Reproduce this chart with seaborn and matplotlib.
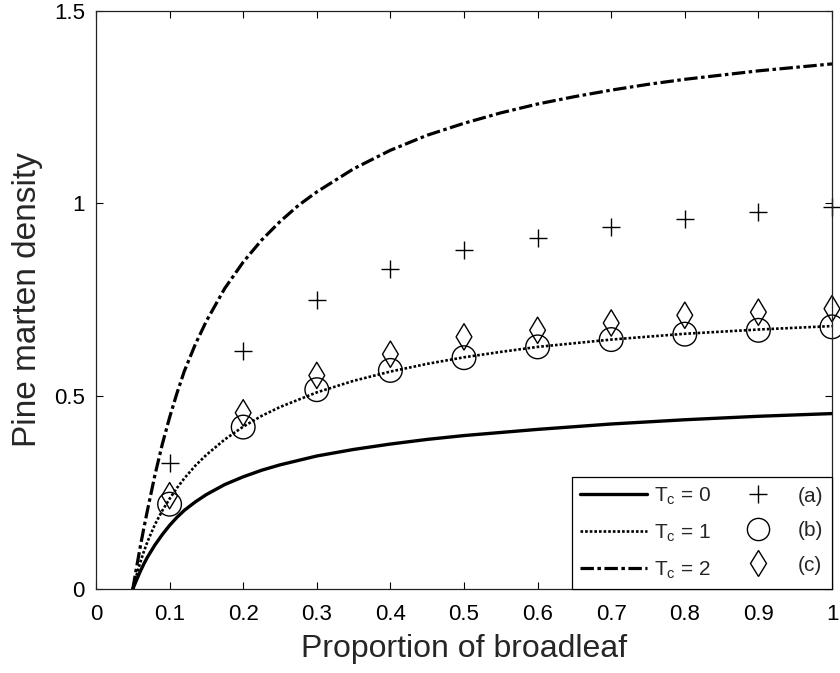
"""Pine marten density vs proportion of broadleaf for three T_c values."""

import matplotlib
matplotlib.use("Agg")
import matplotlib.pyplot as plt
from matplotlib.lines import Line2D
import pandas as pd
import seaborn as sns

# curves
curve_x_tc0 = [0.05, 0.055, 0.06, 0.065, 0.07, 0.08, 0.09, 0.10, 0.11, 0.12, 0.135, 0.15,
               0.175, 0.20, 0.225, 0.25, 0.30, 0.35, 0.40, 0.45, 0.50, 0.60, 0.70, 0.80,
               0.90, 1.00]
curve_y_tc0 = [0.0, 0.023, 0.045, 0.065, 0.083, 0.114, 0.141, 0.165, 0.186, 0.204, 0.226,
               0.245, 0.271, 0.291, 0.308, 0.322, 0.345, 0.362, 0.376, 0.388, 0.398, 0.414,
               0.428, 0.439, 0.448, 0.455]

curve_x_tc1 = [0.05, 0.055, 0.06, 0.065, 0.07, 0.08, 0.09, 0.10, 0.11, 0.12, 0.135, 0.15,
               0.175, 0.20, 0.225, 0.25, 0.30, 0.35, 0.40, 0.45, 0.50, 0.55, 0.60, 0.70,
               0.80, 0.90, 1.00]
curve_y_tc1 = [0.0, 0.035, 0.068, 0.097, 0.123, 0.167, 0.203, 0.234, 0.262, 0.287, 0.320,
               0.348, 0.388, 0.421, 0.449, 0.472, 0.510, 0.540, 0.564, 0.584, 0.601, 0.615,
               0.628, 0.647, 0.662, 0.673, 0.682]

curve_x_tc2 = [0.05, 0.055, 0.06, 0.065, 0.07, 0.08, 0.09, 0.10, 0.11, 0.12, 0.135, 0.15,
               0.175, 0.20, 0.225, 0.25, 0.275, 0.30, 0.35, 0.40, 0.45, 0.50, 0.55, 0.60,
               0.65, 0.70, 0.75, 0.80, 0.85, 0.90, 0.95, 1.00]
curve_y_tc2 = [0.0, 0.055, 0.108, 0.158, 0.205, 0.295, 0.375, 0.445, 0.508, 0.565, 0.635,
               0.695, 0.78, 0.848, 0.905, 0.953, 0.995, 1.03, 1.09, 1.138, 1.177, 1.208,
               1.235, 1.258, 1.277, 1.294, 1.309, 1.322, 1.333, 1.344, 1.353, 1.362]

# simulated points (a), (b), (c)
point_x = [0.1, 0.2, 0.3, 0.4, 0.5, 0.6, 0.7, 0.8, 0.9, 1.0]
points_a = [0.326, 0.617, 0.75, 0.831, 0.88, 0.911, 0.939, 0.960, 0.979, 0.990]
points_b = [0.220, 0.420, 0.517, 0.567, 0.600, 0.628, 0.647, 0.661, 0.671, 0.680]
points_c = [0.242, 0.457, 0.554, 0.609, 0.654, 0.671, 0.690, 0.710, 0.718, 0.727]

curve_labels = ["$T_c$ = 0", "$T_c$ = 1", "$T_c$ = 2"]
point_labels = ["(a)", "(b)", "(c)"]
xtick_values = [0, 0.1, 0.2, 0.3, 0.4, 0.5, 0.6, 0.7, 0.8, 0.9, 1]
xtick_labels = ["0", "0.1", "0.2", "0.3", "0.4", "0.5", "0.6", "0.7", "0.8", "0.9", "1"]
ytick_values = [0, 0.5, 1, 1.5]
ytick_labels = ["0", "0.5", "1", "1.5"]

sns.set_theme(style="ticks")
plt.rcParams["font.family"] = ["Liberation Sans", "DejaVu Sans"]
plt.rcParams["mathtext.default"] = "regular"

fig = plt.figure(figsize=(8.4, 6.73), dpi=100)
ax = fig.add_axes([96 / 840, 84 / 673, 736 / 840, 578.3 / 673])

line_styles = [
    dict(linestyle="-", linewidth=2.4),
    dict(linestyle=(0, (1.0, 0.75)), linewidth=1.9),
    dict(linestyle=(0, (4.2, 1.1, 1.1, 1.1)), linewidth=2.3),
]
curves = [(curve_x_tc0, curve_y_tc0), (curve_x_tc1, curve_y_tc1), (curve_x_tc2, curve_y_tc2)]
for (cx, cy), style in zip(curves, line_styles):
    df = pd.DataFrame({"x": cx, "y": cy})
    sns.lineplot(data=df, x="x", y="y", color="black", ax=ax, **style)

sns.scatterplot(x=point_x, y=points_a, marker="+", s=150, color="black", linewidth=1.0, ax=ax)
sns.scatterplot(x=point_x, y=points_b, marker="o", s=290, color="black", linewidth=1.0, ax=ax)
ax.collections[-1].set_facecolor("none")
ax.collections[-1].set_edgecolor("black")
sns.scatterplot(x=point_x, y=points_c, marker="d", s=180, color="black", linewidth=1.0, ax=ax)
ax.collections[-1].set_facecolor("none")
ax.collections[-1].set_edgecolor("black")
for coll in ax.collections:
    coll.set_clip_on(False)

ax.set_xlim(0, 1)
ax.set_ylim(0, 1.5)
ax.set_xticks(xtick_values)
ax.set_xticklabels(xtick_labels)
ax.set_yticks(ytick_values)
ax.set_yticklabels(ytick_labels)
ax.tick_params(direction="in", length=5, width=0.8, top=True, right=True,
               labelsize=16, colors="black")
ax.tick_params(axis="x", pad=11)
ax.tick_params(axis="y", pad=8)
for spine in ax.spines.values():
    spine.set_linewidth(0.9)
    spine.set_color("#222222")
    spine.set_visible(True)

ax.set_xlabel("Proportion of broadleaf", fontsize=23)
ax.set_ylabel("Pine marten density", fontsize=24)
ax.xaxis.set_label_coords(0.5, -0.078)
ax.yaxis.set_label_coords(-0.072, 0.5)

handles = [Line2D([], [], color="black", **style) for style in line_styles]
handles += [
    Line2D([], [], linestyle="none", marker="+", markersize=13, color="black", markeredgewidth=1.0),
    Line2D([], [], linestyle="none", marker="o", markersize=16, markerfacecolor="none",
           markeredgecolor="black", markeredgewidth=1.0),
    Line2D([], [], linestyle="none", marker="d", markersize=13, markerfacecolor="none",
           markeredgecolor="black", markeredgewidth=1.0),
]
leg = ax.legend(handles, curve_labels + point_labels, ncol=2, loc="lower right",
                bbox_to_anchor=(1, 0), borderaxespad=0, fancybox=False, framealpha=1,
                edgecolor="black", fontsize=15, handlelength=3.2, handletextpad=0.35,
                columnspacing=0.6, labelspacing=0.75, borderpad=0.4)
leg.get_frame().set_linewidth(0.9)

fig.savefig("out.png", dpi=100)
